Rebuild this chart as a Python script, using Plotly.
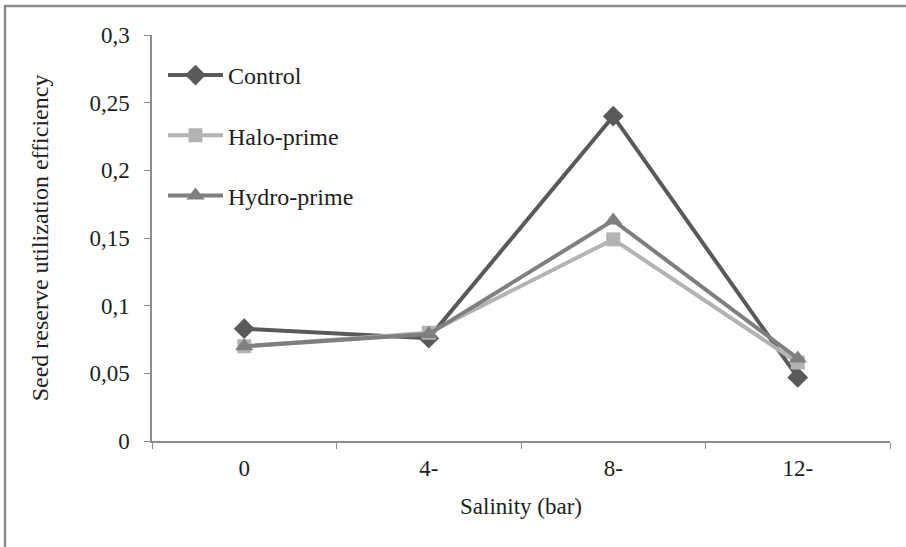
import plotly.graph_objects as go

categories = ["0", "4-", "8-", "12-"]
control = [0.083, 0.076, 0.240, 0.047]
halo_prime = [0.070, 0.080, 0.149, 0.058]
hydro_prime = [0.070, 0.079, 0.163, 0.061]
y_tick_vals = [0, 0.05, 0.1, 0.15, 0.2, 0.25, 0.3]
y_tick_text = ["0", "0,05", "0,1", "0,15", "0,2", "0,25", "0,3"]

series = [
    ("Control", control, "#595959", "diamond", 16),
    ("Halo-prime", halo_prime, "#b3b3b3", "square", 14),
    ("Hydro-prime", hydro_prime, "#7f7f7f", "triangle-up", 16),
]

FONT = "Times New Roman"
TXT = "#1e1e1e"
fig = go.Figure()
for i, (name, vals, col, sym, sz) in enumerate(series):
    fig.add_trace(go.Scatter(
        x=categories, y=vals, name=name, mode="lines+markers",
        legendgroup=f"g{i}",
        line=dict(color=col, width=4),
        marker=dict(symbol=sym, size=sz, color=col),
    ))

L, R, T, B = 152, 16, 35, 106
W, H = 906, 547
pw, ph = W - L - R, H - T - B

def px_x(p):
    return (p - L) / pw

def px_y(p):
    return (H - B - p) / ph

fig.update_layout(
    width=W, height=H,
    margin=dict(l=L, r=R, t=T, b=B),
    paper_bgcolor="white", plot_bgcolor="white",
    font=dict(family=FONT, size=23, color=TXT),
    showlegend=True,
    legend=dict(
        x=px_x(163), y=px_y(53), xanchor="left", yanchor="top",
        bgcolor="rgba(0,0,0,0)", tracegroupgap=26, itemwidth=55,
        font=dict(family=FONT, size=24, color=TXT),
    ),
    xaxis=dict(
        type="category", range=[-0.5, 3.5],
        showline=True, linecolor="#8c8c8c", linewidth=1.5,
        ticks="outside", tickson="boundaries", ticklen=6, tickcolor="#8c8c8c",
        ticklabelstandoff=6,
        showgrid=False, zeroline=False,
        tickfont=dict(family=FONT, size=23, color=TXT),
        title=dict(text="Salinity (bar)", font=dict(family=FONT, size=23, color=TXT), standoff=18),
    ),
    yaxis=dict(
        range=[0, 0.3], tickmode="array", tickvals=y_tick_vals, ticktext=y_tick_text,
        showline=True, linecolor="#8c8c8c", linewidth=1.5,
        ticks="outside", ticklen=6, tickcolor="#8c8c8c",
        ticklabelstandoff=10,
        showgrid=False, zeroline=False,
        tickfont=dict(family=FONT, size=23, color=TXT),
        title=dict(text="Seed reserve utilization efficiency",
                   font=dict(family=FONT, size=24, color=TXT), standoff=34),
    ),
    shapes=[
        dict(type="line", xref="paper", yref="paper",
             x0=px_x(5), x1=px_x(5), y0=px_y(6), y1=px_y(H + 5),
             line=dict(color="#8a8a8a", width=2.5)),
        dict(type="line", xref="paper", yref="paper",
             x0=px_x(4), x1=px_x(W + 5), y0=px_y(6), y1=px_y(6),
             line=dict(color="#8a8a8a", width=2.5)),
    ],
)

fig.write_html(
    "out.html",
    config={"displayModeBar": False},
    post_script="document.body.style.margin='0';document.body.style.padding='0';",
)
